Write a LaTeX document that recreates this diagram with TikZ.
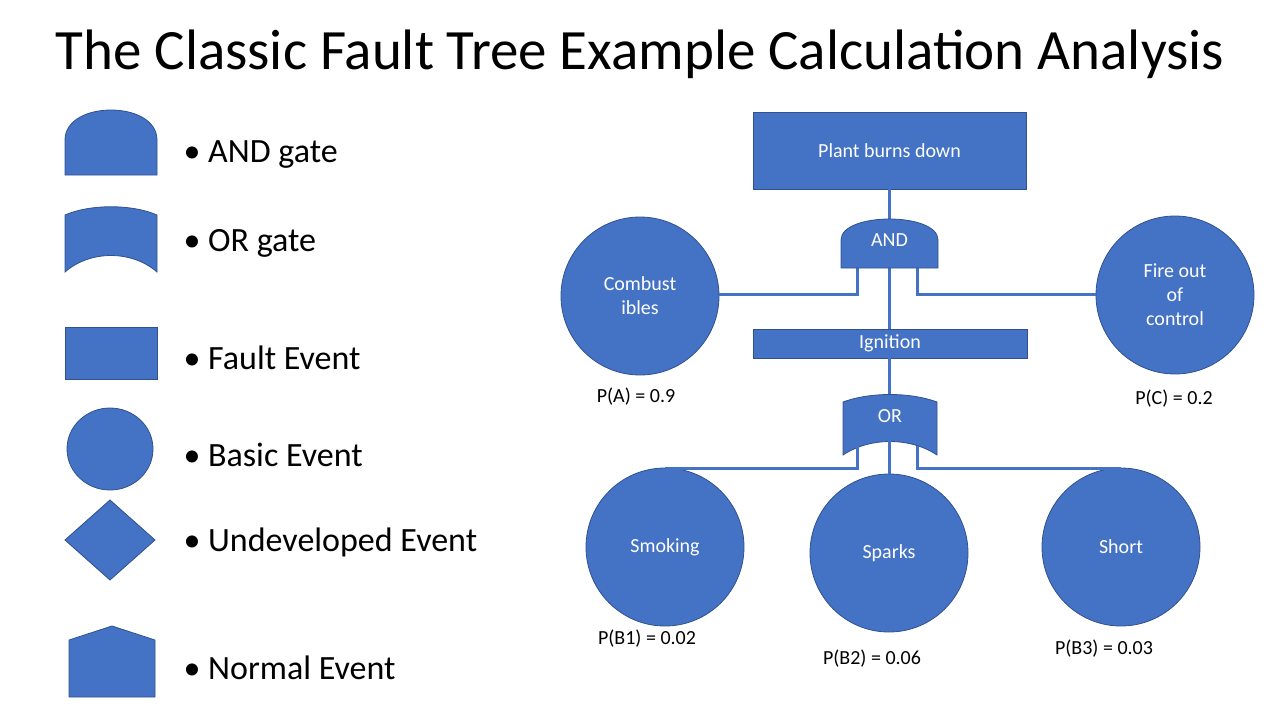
\documentclass[tikz,border=0pt]{standalone}
\usepackage{fontspec}
\setmainfont{Carlito}
\begin{document}
\begin{tikzpicture}[x=1pt,y=-1pt,
  shp/.style={fill=blue1,draw=blue2,line width=0.8},
  ln/.style={draw=blue1,line width=3},
  wt/.style={text=white,font=\fontsize{20}{24}\selectfont,align=center},
  bk/.style={font=\fontsize{20}{24}\selectfont},
  lg/.style={font=\fontsize{34}{40}\selectfont,anchor=west},
  ev/.style={circle,shp,minimum size=158,inner sep=0,wt}]
\definecolor{blue1}{HTML}{4472C4}
\definecolor{blue2}{HTML}{2F528F}
\useasboundingbox (0,0) rectangle (1280,720);
\node[font=\fontsize{57}{64}\selectfont] (title) at (640,54) {The Classic Fault Tree Example Calculation Analysis};
% legend
\path[shp] (65,175) -- (65,140) .. controls (65,100) and (157,100) .. (157,140) -- (157,175) -- cycle;
\path[shp] (65,272) -- (65,215) .. controls (90,204) and (132,204) .. (157,215) -- (157,272) .. controls (132,250) and (90,250) .. (65,272) -- cycle;
\path[shp] (65,327) rectangle (157,379);
\path[shp] (110,449) ellipse [x radius=43,y radius=41];
\path[shp] (65,540) -- (110,500) -- (155,540) -- (110,580) -- cycle;
\path[shp] (69,697) -- (69,640) -- (112,626) -- (155,640) -- (155,697) -- cycle;
\node[lg] (l1) at (180,155) {• AND gate};
\node[lg] (l2) at (180,243) {• OR gate};
\node[lg] (l3) at (180,358) {• Fault Event};
\node[lg] (l4) at (180,455) {• Basic Event};
\node[lg] (l5) at (180,542) {• Undeveloped Event};
\node[lg] (l6) at (180,668) {• Normal Event};
% tree
\node[shp,minimum width=273,minimum height=77,inner sep=0,wt] (top) at (889.5,150.5) {Plant burns down};
\node[shp,minimum width=274,minimum height=29,inner sep=0,wt] (ign) at (890,343.5) {Ignition};
\node[ev] (A) at (640,296) {Combust\\ibles};
\node[ev] (C) at (1175,295) {Fire out\\of\\control};
\node[ev] (B1) at (665,547) {Smoking};
\node[ev] (B2) at (889,553) {Sparks};
\node[ev] (B3) at (1121,547) {Short};
\coordinate (andT) at (889,221);
\coordinate (orT) at (889,396);
\coordinate (aL) at (857,294); \coordinate (aR) at (917,294);
\coordinate (oL) at (857,468); \coordinate (oR) at (917,468);
% connectors
\draw[ln] (top.south -| andT) -- (andT);
\draw[ln] (889,268) -- (ign.north -| andT);
\draw[ln] (ign.south -| orT) -- (orT);
\draw[ln] (857,268) -- (aL) -- (A.east |- aL);
\draw[ln] (917,268) -- (aR) -- (C.west |- aR);
\draw[ln] (857,450) -- (oL) -- (B1.north |- oL);
\draw[ln] (917,450) -- (oR) -- (B3.north |- oR);
\draw[ln] (889,445) -- (B2.north);
% gates
\path[shp] (841,268) -- (841,240) .. controls (841,212) and (938,212) .. (938,240) -- (938,268) -- cycle;
\node[wt] (and) at (889.5,240) {AND};
\path[shp] (843,455) -- (843,402) .. controls (870,392) and (910,392) .. (937,402) -- (937,455) .. controls (910,437) and (870,437) .. (843,455) -- cycle;
\draw[ln] (857,446) -- (857,452); \draw[ln] (889,441) -- (889,452); \draw[ln] (917,446) -- (917,452);
\node[wt] (or) at (890,416) {OR};
% probabilities
\node[bk] (pA) at (636,397) {P(A) = 0.9};
\node[bk] (pC) at (1174,399) {P(C) = 0.2};
\node[bk] (p1) at (647,639) {P(B1) = 0.02};
\node[bk] (p2) at (872,659) {P(B2) = 0.06};
\node[bk] (p3) at (1104,649) {P(B3) = 0.03};
\end{tikzpicture}
\end{document}
